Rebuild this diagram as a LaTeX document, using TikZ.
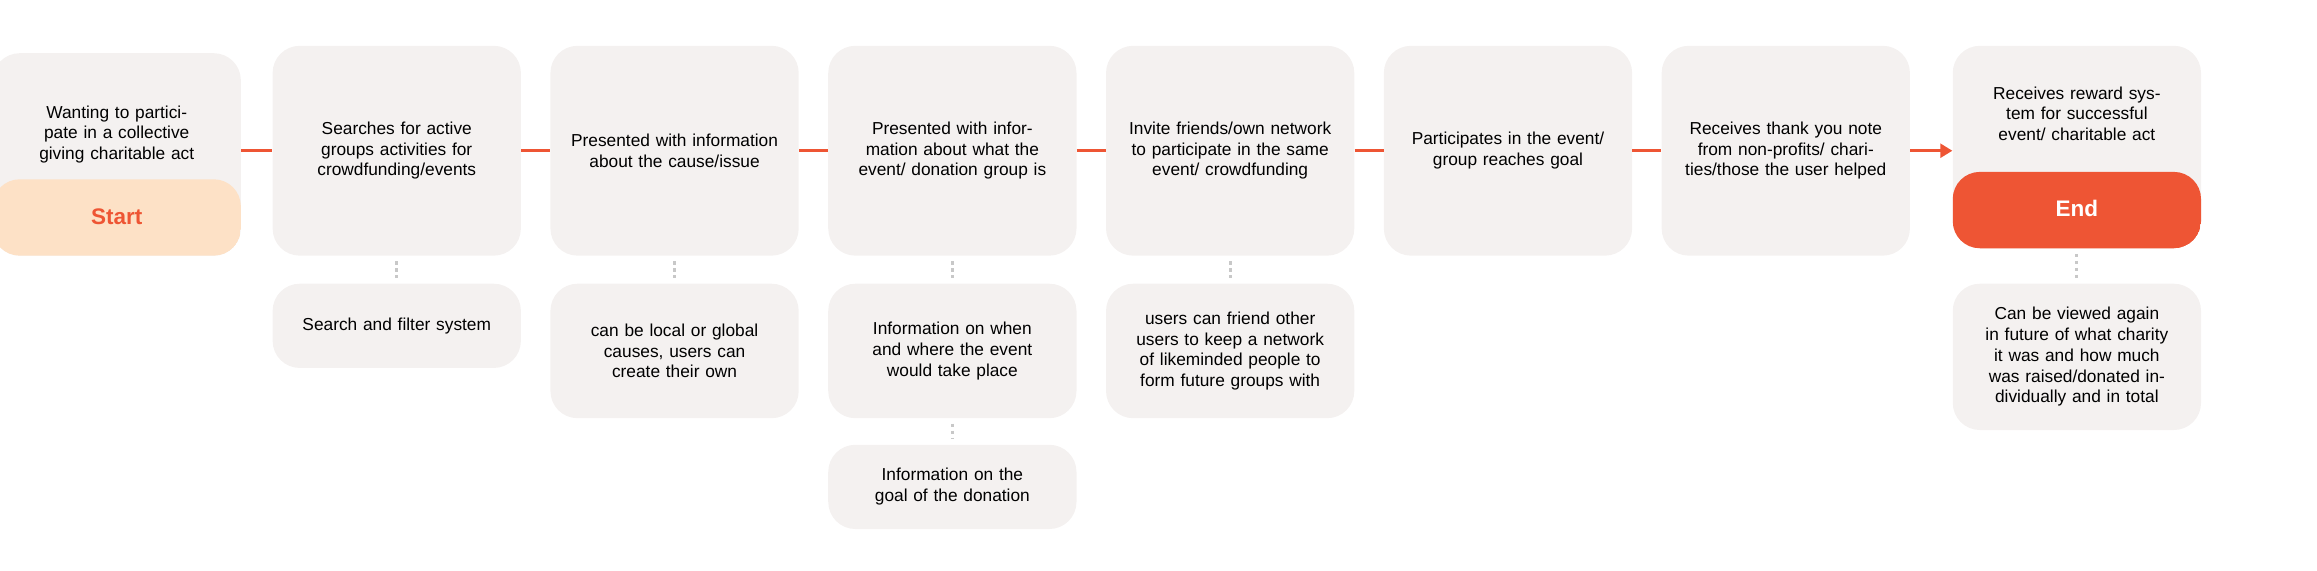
\documentclass[tikz,border=0pt]{standalone}
\usepackage{fontspec}
\setmainfont{Liberation Sans}
\usetikzlibrary{arrows.meta,positioning}
\definecolor{boxgray}{HTML}{F4F1F0}
\definecolor{peach}{HTML}{FDE1C6}
\definecolor{flame}{HTML}{EE5534}
\definecolor{dotgray}{HTML}{C8C8C8}
\tikzset{
  step box/.style={fill=boxgray, rounded corners=0.55cm, minimum width=5.04cm, minimum height=4.26cm, inner sep=0pt},
  note box/.style={fill=boxgray, rounded corners=0.55cm, minimum width=5.04cm, inner sep=0pt, text width=4.5cm, align=center, font=\fontsize{10}{12}\selectfont},
  step text/.style={text width=4.5cm, align=center, font=\fontsize{10}{12}\selectfont},
  band/.style={path picture={\fill[#1] ([yshift=1.55cm]path picture bounding box.south west) rectangle (path picture bounding box.south east);}},
  flow/.style={draw=flame, line width=1.7pt},
  tie/.style={draw=dotgray, line width=1.8pt, dash pattern=on 2pt off 2pt}
}
\begin{document}
\begin{tikzpicture}[x=0.03cm, y=-0.03cm]
	\useasboundingbox (0,0) rectangle (1568,386);

	% STEPS
	\node[step box, minimum height=4.11cm, band=peach] (s1) at (79,104.5) {};
	\node[step text] (t1) at (79,91) {Wanting to participate in a collective giving charitable act};
	\node[font=\fontsize{13}{15}\selectfont\bfseries, text=flame] (start) at (79,147) {Start};

	\node[step box] (s2) at (268.5,102) {};
	\node[step text] at (s2) {Searches for active groups activities for crowdfunding/events};
	\node[step box] (s3) at (456.5,102) {};
	\node[step text] at (s3) {Presented with information about the cause/issue};
	\node[step box] (s4) at (644.5,102) {};
	\node[step text] at (s4) {Presented with information about what the event/ donation group is};
	\node[step box] (s5) at (832.5,102) {};
	\node[step text] at (s5) {Invite friends/own network to participate in the same event/ crowdfunding};
	\node[step box] (s6) at (1020.5,102) {};
	\node[step text] at (s6) {Participates in the event/ group reaches goal};
	\node[step box] (s7) at (1208.5,102) {};
	\node[step text] at (s7) {Receives thank you note from non-profits/ charities/those the user helped};

	\node[step box, minimum height=4.11cm, band=flame] (s8) at (1405.5,99.5) {};
	\node[step text] (t8) at (1405.5,77) {Receives reward system for successful event/ charitable act};
	\node[font=\fontsize{13}{15}\selectfont\bfseries, text=white] (finish) at (1405.5,141) {End};

	% NOTES
	\node[note box, minimum height=1.71cm] (n2) at (268.5,220.5) {Search and filter system};
	\node[note box, minimum height=2.73cm] (n3) at (456.5,237.5) {can be local or global causes, users can create their own};
	\node[note box, minimum height=2.73cm] (n4) at (644.5,237.5) {Information on when and where the event would take place};
	\node[note box, minimum height=1.71cm] (n4b) at (644.5,329.5) {Information on the goal of the donation};
	\node[note box, minimum height=2.73cm] (n5) at (832.5,237.5) {users can friend other users to keep a network of likeminded people to form future groups with};
	\node[note box, minimum height=2.97cm] (n8) at (1405.5,241.5) {Can be viewed again in future of what charity it was and how much was raised/donated individually and in total};

	% FLOW
	\draw[flow] (s1.east |- s2.west) -- (s2.west);
	\foreach \a/\b in {s2/s3,s3/s4,s4/s5,s5/s6,s6/s7}
		\draw[flow] (\a.east) -- (\b.west);
	\draw[flow, -{Triangle[length=7pt,width=8pt]}] (s7.east) -- (s8.west |- s7.east);

	% TIES
	\foreach \a/\b in {s2/n2,s3/n3,s4/n4,n4/n4b,s5/n5,s8/n8}
		\draw[tie] ([yshift=-3pt]\a.south) -- ([yshift=3pt]\b.north);
\end{tikzpicture}
\end{document}
